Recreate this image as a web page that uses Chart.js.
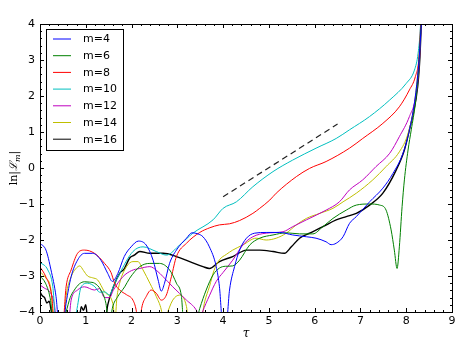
<!DOCTYPE html>
<html>
<head>
<meta charset="utf-8">
<script src="https://cdn.jsdelivr.net/npm/chart.js@4.4.0/dist/chart.umd.min.js"></script>
<style>
  html, body { margin: 0; padding: 0; background: #fff; }
  #c { display: block; }
</style>
</head>
<body>
<canvas id="c" width="463" height="348"></canvas>
<script>
// Data: [tau, ln|L_m|]
const m4 = [[0,-2.09],[0.13,-2.28],[0.24,-2.83],[0.35,-3.57],[0.42,-4.4],[0.5,-4.4],[0.57,-3.76],[0.68,-3.02],[0.82,-2.56],[0.97,-2.37],[1.15,-2.37],[1.33,-2.56],[1.48,-2.93],[1.58,-3.15],[1.7,-2.93],[1.84,-2.46],[1.99,-2.19],[2.15,-2.03],[2.32,-2.14],[2.47,-2.56],[2.58,-3.11],[2.65,-3.42],[2.72,-3.2],[2.83,-2.65],[2.98,-2.28],[3.2,-1.95],[3.32,-1.8],[3.45,-1.83],[3.56,-1.91],[3.7,-2.19],[3.85,-2.74],[3.92,-3.3],[3.99,-4.3],[4.07,-4.3],[4.14,-3.39],[4.25,-2.74],[4.36,-2.28],[4.51,-1.95],[4.69,-1.81],[4.94,-1.79],[5.23,-1.79],[5.52,-1.86],[5.82,-1.91],[6.03,-1.95],[6.25,-2.05],[6.36,-2.13],[6.47,-2.09],[6.62,-1.91],[6.76,-1.54],[6.91,-1.35],[7.2,-0.94],[7.49,-0.56],[7.71,-0.15],[7.93,0.41],[8.07,1.06],[8.2,2.0],[8.28,3.0],[8.33,4.0],[8.36,4.6]];
const m6 = [[0,-3.0],[0.12,-3.2],[0.22,-3.6],[0.3,-4.3],[0.5,-4.3],[0.57,-4.0],[0.66,-3.6],[0.75,-3.39],[0.86,-3.22],[0.97,-3.16],[1.08,-3.17],[1.19,-3.2],[1.33,-3.39],[1.44,-3.76],[1.5,-4.3],[1.53,-4.3],[1.58,-3.9],[1.7,-3.57],[1.85,-3.3],[1.96,-3.06],[2.18,-2.74],[2.4,-2.65],[2.61,-2.65],[2.83,-2.83],[2.98,-3.2],[3.09,-3.57],[3.14,-4.3],[3.4,-4.3],[3.49,-3.9],[3.63,-3.39],[3.78,-2.97],[3.92,-2.78],[4.05,-2.73],[4.21,-2.72],[4.36,-2.56],[4.58,-2.14],[4.8,-1.95],[5.09,-1.86],[5.38,-1.8],[5.67,-1.83],[5.96,-1.83],[6.18,-1.63],[6.4,-1.4],[6.69,-1.17],[6.91,-1.03],[7.2,-1.0],[7.42,-1.03],[7.56,-1.17],[7.67,-1.72],[7.74,-2.28],[7.8,-2.79],[7.85,-2.19],[7.91,-1.07],[7.96,-0.33],[8.04,0.5],[8.11,1.06],[8.2,1.8],[8.28,2.91],[8.32,3.9],[8.35,4.6]];
const m8 = [[0,-2.75],[0.12,-3.0],[0.25,-3.5],[0.32,-4.3],[0.5,-4.3],[0.57,-3.3],[0.68,-2.83],[0.82,-2.37],[0.97,-2.28],[1.19,-2.37],[1.41,-2.65],[1.55,-2.9],[1.63,-3.2],[1.74,-3.39],[1.89,-3.52],[2.03,-3.67],[2.1,-3.94],[2.14,-4.3],[2.18,-4.3],[2.22,-3.9],[2.32,-3.57],[2.43,-3.39],[2.54,-3.48],[2.65,-3.67],[2.76,-3.53],[2.87,-3.02],[2.98,-2.46],[3.2,-2.09],[3.49,-1.79],[3.71,-1.66],[3.92,-1.58],[4.14,-1.55],[4.36,-1.46],[4.65,-1.26],[4.8,-1.12],[5.02,-0.89],[5.16,-0.7],[5.6,-0.24],[5.89,-0.01],[6.25,0.18],[6.76,0.55],[7.05,0.82],[7.49,1.24],[7.85,1.7],[8.07,2.17],[8.2,2.54],[8.28,3.09],[8.31,3.83],[8.34,4.6]];
const m10 = [[0,-2.62],[0.17,-2.83],[0.28,-3.3],[0.35,-4.3],[0.75,-4.3],[0.81,-3.9],[0.9,-3.3],[1.04,-3.2],[1.2,-3.3],[1.3,-3.45],[1.41,-3.44],[1.52,-3.53],[1.6,-3.3],[1.74,-2.93],[2.03,-2.32],[2.25,-2.19],[2.54,-2.32],[2.76,-2.42],[3.05,-2.14],[3.34,-1.81],[3.78,-1.44],[4.0,-1.12],[4.29,-0.94],[4.65,-0.52],[5.09,-0.1],[5.52,0.22],[6.03,0.55],[6.47,0.82],[6.76,1.06],[7.2,1.43],[7.64,1.89],[8.0,2.35],[8.18,2.72],[8.26,3.19],[8.31,3.93],[8.33,4.6]];
const m12 = [[0,-3.25],[0.1,-3.34],[0.2,-3.42],[0.3,-3.7],[0.38,-4.3],[0.62,-4.3],[0.68,-3.67],[0.82,-3.39],[0.97,-3.3],[1.19,-3.39],[1.3,-3.35],[1.41,-3.6],[1.52,-3.6],[1.6,-3.4],[1.81,-3.02],[2.0,-2.85],[2.18,-2.79],[2.4,-2.74],[2.55,-2.85],[2.69,-3.02],[2.9,-3.3],[3.2,-3.67],[3.41,-3.94],[3.5,-4.2],[3.55,-4.0],[3.7,-3.55],[3.85,-3.15],[4.0,-2.9],[4.21,-2.56],[4.43,-2.14],[4.65,-1.91],[4.94,-1.81],[5.31,-1.77],[5.52,-1.63],[5.82,-1.44],[6.25,-1.17],[6.54,-0.94],[6.76,-0.61],[7.05,-0.33],[7.34,0.04],[7.64,0.41],[7.85,0.87],[8.07,1.43],[8.22,2.07],[8.29,3.0],[8.32,3.83],[8.35,4.6]];
const m14 = [[0,-2.88],[0.13,-3.06],[0.24,-3.39],[0.3,-4.3],[0.52,-4.3],[0.57,-3.57],[0.68,-3.02],[0.78,-2.8],[0.87,-2.72],[0.95,-2.85],[1.04,-3.0],[1.15,-3.05],[1.26,-3.11],[1.41,-3.44],[1.59,-3.76],[1.64,-4.2],[1.68,-3.6],[1.74,-3.2],[1.89,-2.74],[2.03,-2.6],[2.14,-2.6],[2.25,-2.83],[2.4,-3.2],[2.54,-3.57],[2.65,-3.94],[2.7,-4.3],[2.76,-4.1],[2.9,-3.67],[3.05,-3.53],[3.2,-3.85],[3.25,-4.3],[3.5,-4.3],[3.6,-3.7],[3.7,-3.3],[3.8,-2.85],[3.92,-2.55],[4.07,-2.4],[4.21,-2.28],[4.43,-2.14],[4.72,-1.95],[4.94,-2.0],[5.16,-1.95],[5.38,-1.81],[5.6,-1.58],[5.82,-1.4],[6.11,-1.26],[6.4,-1.12],[6.62,-0.94],[6.91,-0.7],[7.27,-0.33],[7.56,0.04],[7.85,0.45],[8.04,0.96],[8.18,1.8],[8.27,2.9],[8.32,3.9],[8.35,4.6]];
const m16 = [[0,-3.44],[0.05,-3.55],[0.1,-3.6],[0.15,-3.75],[0.2,-3.7],[0.25,-4.0],[0.3,-4.3],[0.85,-4.3],[0.9,-3.85],[0.95,-3.95],[1.0,-3.8],[1.05,-4.3],[1.42,-4.3],[1.48,-3.8],[1.62,-3.25],[1.74,-2.93],[1.84,-2.8],[1.96,-2.5],[2.06,-2.42],[2.18,-2.32],[2.4,-2.37],[2.69,-2.37],[2.98,-2.46],[3.27,-2.6],[3.56,-2.74],[3.7,-2.79],[3.92,-2.6],[4.21,-2.46],[4.51,-2.28],[4.8,-2.28],[5.09,-2.32],[5.34,-2.37],[5.49,-2.19],[5.67,-1.95],[5.89,-1.81],[6.18,-1.63],[6.47,-1.44],[6.69,-1.35],[6.91,-1.26],[7.2,-1.03],[7.49,-0.7],[7.78,-0.06],[7.96,0.5],[8.07,1.06],[8.14,1.43],[8.25,2.26],[8.3,3.1],[8.33,4.0],[8.36,4.6]];
const guide = [[4.0,-0.8],[6.5,1.22]];

const labels = ['m=4','m=6','m=8','m=10','m=12','m=14','m=16'];
const colors = ['#0000ff','#008000','#ff0000','#00bfbf','#bf00bf','#bfbf00','#000000'];
const series = [m4, m6, m8, m10, m12, m14, m16];
const xTicks = [0,1,2,3,4,5,6,7,8,9];
const yTicks = [-4,-3,-2,-1,0,1,2,3,4];

const FONT = '"DejaVu Sans", sans-serif';
const toPts = (arr) => arr.map(([x, y]) => ({ x, y }));

const datasets = series.map((s, i) => ({
  label: labels[i],
  data: toPts(s),
  borderColor: colors[i],
  borderWidth: i === 6 ? 1.4 : 1,
  pointRadius: 0,
  cubicInterpolationMode: 'monotone',
}));
datasets.push({
  label: 'guide',
  data: toPts(guide),
  borderColor: '#222',
  borderWidth: 1.2,
  borderDash: [6, 4],
  pointRadius: 0,
});

// frame, inward ticks, legend and axis titles
const decor = {
  id: 'decor',
  afterDatasetsDraw(chart) {
    const { ctx, chartArea: a, scales: { x, y } } = chart;
    ctx.save();
    ctx.strokeStyle = '#000';
    ctx.lineWidth = 1;
    ctx.strokeRect(Math.round(a.left) + 0.5, Math.round(a.top) + 0.5,
      Math.round(a.right - a.left), Math.round(a.bottom - a.top));

    ctx.beginPath();
    for (let v = 0; v <= 9.001; v += 0.2) {
      const major = Math.abs(v - Math.round(v)) < 1e-6;
      const len = major ? 4 : 2;
      const px = Math.round(x.getPixelForValue(v)) + 0.5;
      ctx.moveTo(px, a.bottom); ctx.lineTo(px, a.bottom - len);
      ctx.moveTo(px, a.top); ctx.lineTo(px, a.top + len);
    }
    for (let v = -4; v <= 4.001; v += 0.2) {
      const major = Math.abs(v - Math.round(v)) < 1e-6;
      const len = major ? 4 : 2;
      const py = Math.round(y.getPixelForValue(v)) + 0.5;
      ctx.moveTo(a.left, py); ctx.lineTo(a.left + len, py);
      ctx.moveTo(a.right, py); ctx.lineTo(a.right - len, py);
    }
    ctx.stroke();

    // legend
    const lx = 46.5, ly = 29.5, lw = 77, lh = 121;
    ctx.fillStyle = '#fff';
    ctx.fillRect(lx, ly, lw, lh);
    ctx.strokeRect(lx, ly, lw, lh);
    ctx.font = '11px ' + FONT;
    ctx.textBaseline = 'middle';
    labels.forEach((lab, i) => {
      const yy = 39 + i * 16.7;
      ctx.strokeStyle = colors[i];
      ctx.beginPath();
      ctx.moveTo(53, yy); ctx.lineTo(71, yy);
      ctx.stroke();
      ctx.fillStyle = '#000';
      ctx.fillText(lab, 83, yy + 0.5);
    });

    // x title
    ctx.fillStyle = '#000';
    ctx.font = 'italic 12px "DejaVu Serif", serif';
    ctx.textAlign = 'center';
    ctx.textBaseline = 'alphabetic';
    ctx.fillText('τ', (a.left + a.right) / 2, 337);

    // y title
    ctx.translate(17, (a.top + a.bottom) / 2);
    ctx.rotate(-Math.PI / 2);
    ctx.textAlign = 'left';
    const parts = [
      ['ln|', '11px "DejaVu Serif", serif', 0],
      ['ℒ', 'italic 11px "DejaVu Serif", serif', 0],
      ['m', 'italic 8px "DejaVu Serif", serif', 3],
      ['|', '11px "DejaVu Serif", serif', 0],
    ];
    let total = 0;
    parts.forEach(([t, f]) => { ctx.font = f; total += ctx.measureText(t).width; });
    let cx = -total / 2;
    parts.forEach(([t, f, dy]) => {
      ctx.font = f;
      ctx.fillText(t, cx, dy);
      cx += ctx.measureText(t).width;
    });
    ctx.restore();
  }
};

new Chart(document.getElementById('c'), {
  type: 'line',
  data: { datasets },
  options: {
    responsive: false,
    animation: false,
    layout: { padding: { top: 24, right: 11, left: 0, bottom: 0 } },
    plugins: { legend: { display: false }, tooltip: { enabled: false } },
    scales: {
      x: {
        type: 'linear', min: 0, max: 9,
        afterFit: (s) => { s.height = 36; },
        afterBuildTicks: (s) => { s.ticks = xTicks.map((v) => ({ value: v })); },
        grid: { display: false, drawTicks: false },
        border: { display: false },
        ticks: { color: '#000', padding: 3, maxRotation: 0, font: { family: FONT, size: 11 } },
      },
      y: {
        type: 'linear', min: -4, max: 4,
        afterFit: (s) => { s.width = 40; },
        afterBuildTicks: (s) => { s.ticks = yTicks.map((v) => ({ value: v })); },
        grid: { display: false, drawTicks: false },
        border: { display: false },
        ticks: {
          color: '#000', padding: 5, font: { family: FONT, size: 11 },
          callback: (v) => String(v).replace('-', '\u2212'),
        },
      },
    },
  },
  plugins: [decor],
});
</script>
</body>
</html>
